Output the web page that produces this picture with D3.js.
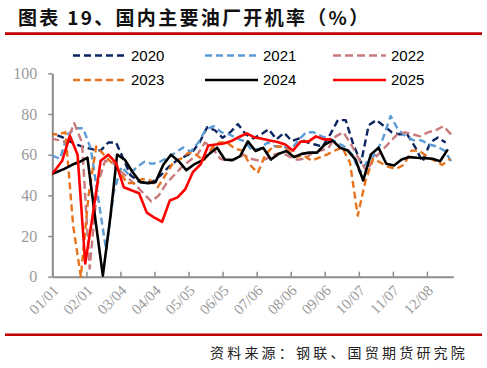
<!DOCTYPE html>
<html><head><meta charset="utf-8">
<script src="https://cdn.jsdelivr.net/npm/d3@7"></script>
<style>body{margin:0;background:#fff}svg{display:block}</style></head>
<body><svg id="c" width="487" height="368"></svg>
<script>
// ---- data ----
const years = ["2020","2021","2022","2023","2024","2025"];
// first weekly (Friday) date of each series; points follow every 7 days
const startDates = ["2019-12-27","2021-01-01","2021-12-31","2022-12-30","2023-12-29","2024-12-27"];
const s2020 = [71,70,68.6,66.5,64.8,63.5,62.6,62,66,66,58.8,50,47,46,47,50,54,57,59,61,66,73.5,72,68.3,71,75,70,68,70,72.5,67.5,70.8,66.7,68,66,65,64,70,77,77,65,56,74.5,77,74,71,70,70,64,56.5,66,68.4,66];
const s2021 = [59.5,58,70,73,73,63,38,13,42,54,50,54,56.5,55.5,56.5,58.5,61,63.5,61.5,66,72.5,74,71,70,68,66.5,62,63,66,64,64,62.5,67,71,71,69,68,66,64,60,51,57,60,68,79,72,69,67,67,65,64,62,56];
const s2022 = [68,67,66,75.5,66,4,45,57,56,52,48.5,45,41,37,40,46,50,54,57,60,66,63,58,57,58,60,58,57,58,60,61,59,57.5,58,61,62,63,69,71,65,58,52,58,62,66,70,71,70,69,71,72,74,70];
const s2023 = [70,70,71,25,0,40,64,60,56,52,46,46,48,47.5,44,50,56,58,61,60,57,63,66,66,63,62,55,51,60,64,64,62,59,59.5,57,58.5,60,62,63.5,56,30,47,58,56,54,53,55,62,62,59,57,55,58];
const s2024 = [50,51.5,53,55,56.5,58.5,29,0.5,30,60,57.5,51.5,46.5,46,46.5,55,60,56.8,52.4,55.2,57,60.4,63.4,57.6,57.3,59.3,66.5,61.8,63.4,57.6,60.4,61.8,58.8,60.4,61,61,65,67,63.4,62,57.6,47.3,60.1,63.4,55.5,54.7,57.6,58.8,58.5,58.3,58,56.8,62.6];
const s2025 = [48,52,57,69.3,60,6.5,31,57,60,56,44,42.5,41,31.5,29,27,37.5,39,43,51.5,55.2,64.5,65,65.5,66.7,68.7,70.5,68.5,67.8,67,66.2,65,62,66.4,66.4,69,67.5,67.5];
const seriesValues = [s2020,s2021,s2022,s2023,s2024,s2025];
const xTickLabels = ["01/01","02/01","03/04","04/04","05/05","06/05","07/06","08/06","09/06","10/07","11/07","12/08"];
const yTicks = [0,20,40,60,80,100];
const title = "图表 19、国内主要油厂开机率（%）";
const source = "资料来源：钢联、国贸期货研究院";

// ---- styles ----
const colors = ["#0b2560","#5b9bd5","#c97a7c","#e8731c","#000000","#ff0000"];
const dashes = ["7,4","7,4","8,4","7,4",null,null];
const BASE = 2025;

const svg = d3.select("#c");
const x = d3.scaleUtc().domain([Date.UTC(BASE,0,1), Date.UTC(BASE+1,0,1)]).range([52.3, 453.3]);
const y = d3.scaleLinear().domain([0,100]).range([276.7, 73.3]);

// title + rules
svg.append("text").attr("x",18).attr("y",25)
  .attr("font-family","'Noto Sans CJK SC'").attr("font-weight",700)
  .attr("font-size",19).attr("letter-spacing",2.3).attr("fill","#111").text(title);
svg.append("line").attr("x1",5).attr("x2",482).attr("y1",33.6).attr("y2",33.6)
  .attr("stroke","#c00000").attr("stroke-width",2.6);
svg.append("line").attr("x1",5).attr("x2",482).attr("y1",334.7).attr("y2",334.7)
  .attr("stroke","#c00000").attr("stroke-width",2.6);
svg.append("text").attr("x",468).attr("y",358).attr("text-anchor","end")
  .attr("font-family","'Noto Sans CJK SC'").attr("font-weight",400)
  .attr("font-size",14).attr("letter-spacing",3.2).attr("fill","#222").text(source);

// axes
const parseMD = s => { const [m,d] = s.split("/").map(Number); return new Date(Date.UTC(BASE,m-1,d)); };
const xAxis = d3.axisBottom(x).tickValues(xTickLabels.map(parseMD))
  .tickFormat(d3.utcFormat("%m/%d")).tickSizeInner(-5).tickSizeOuter(0).tickPadding(0);
const gx = svg.append("g").attr("transform",`translate(0,${y(0)})`).call(xAxis);
gx.select(".domain").attr("stroke","#8c8c8c").attr("stroke-width",2);
gx.selectAll(".tick line").attr("stroke","#8c8c8c").attr("stroke-width",1.5);
gx.selectAll(".tick text")
  .attr("font-family","'Liberation Serif','Times New Roman',serif").attr("font-size",15)
  .attr("fill","#9a9a9a").attr("text-anchor","end")
  .attr("transform","translate(3,11) rotate(-45)").attr("dy","0.35em").attr("y",0).attr("x",0);

const yAxis = d3.axisLeft(y).tickValues(yTicks).tickSizeInner(4).tickSizeOuter(0).tickPadding(11);
const gy = svg.append("g").attr("transform",`translate(${x.range()[0]},0)`).call(yAxis);
gy.select(".domain").attr("stroke","#8c8c8c").attr("stroke-width",2);
gy.selectAll(".tick line").attr("stroke","#8c8c8c").attr("stroke-width",1.5);
gy.selectAll(".tick text")
  .attr("font-family","'Liberation Serif','Times New Roman',serif").attr("font-size",16)
  .attr("fill","#9a9a9a");

// clip to x range
svg.append("clipPath").attr("id","clip").append("rect")
  .attr("x",x.range()[0]).attr("y",0).attr("width",x.range()[1]-x.range()[0]+10).attr("height",300);

// series -> points mapped onto base year
function toPoints(i){
  const st = new Date(startDates[i]+"T00:00:00Z");
  const sy = +years[i];
  return seriesValues[i].map((v,k)=>{
    const d = new Date(st.getTime() + k*7*864e5);
    const md = new Date(Date.UTC(BASE + (d.getUTCFullYear()-sy), d.getUTCMonth(), d.getUTCDate()));
    return {date: md, value: v};
  });
}
const line = d3.line().x(d=>x(d.date)).y(d=>y(d.value));
const gl = svg.append("g").attr("clip-path","url(#clip)");
years.forEach((yr,i)=>{
  gl.append("path").datum(toPoints(i)).attr("d",line)
    .attr("fill","none").attr("stroke",colors[i])
    .attr("stroke-width", dashes[i] ? 2.4 : 2.6)
    .attr("stroke-dasharray", dashes[i])
    .attr("stroke-linejoin","round");
});

// legend
const colX = [73,205,333], rowY = [55.5,80];
years.forEach((yr,i)=>{
  const cx = colX[i%3], cy = rowY[Math.floor(i/3)];
  const g = svg.append("g");
  g.append("line").attr("x1",cx).attr("x2",cx+53).attr("y1",cy).attr("y2",cy)
    .attr("stroke",colors[i]).attr("stroke-width",dashes[i]?2.4:2.6)
    .attr("stroke-dasharray",dashes[i]);
  g.append("text").attr("x",cx+58).attr("y",cy).attr("dy","0.36em")
    .attr("font-family","'Liberation Sans',Arial,sans-serif").attr("font-size",15)
    .attr("fill","#000").text(yr);
});
</script></body></html>
